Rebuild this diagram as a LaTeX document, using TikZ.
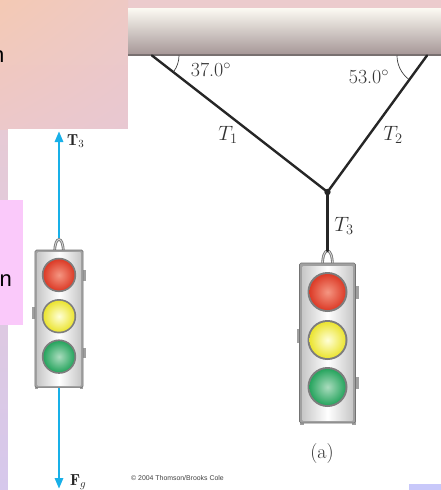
\documentclass[tikz,border=0pt]{standalone}
\usepackage{fontspec}
\newfontfamily\slidefont{Liberation Sans}
\usetikzlibrary{arrows.meta,shadings}
\definecolor{bgtop}{RGB}{236,203,205}
\definecolor{bgbot}{RGB}{214,200,236}
\definecolor{peachA}{RGB}{244,201,180}
\definecolor{peachB}{RGB}{238,201,196}
\definecolor{peachC}{RGB}{236,200,202}
\definecolor{peachD}{RGB}{232,200,210}
\definecolor{pinkbox}{RGB}{250,201,250}
\definecolor{lavbox}{RGB}{200,200,250}
\definecolor{ceiltop}{RGB}{252,250,243}
\definecolor{ceilbot}{RGB}{165,150,150}
\definecolor{ceilline}{RGB}{120,112,112}
\definecolor{forceblue}{RGB}{24,176,232}
\definecolor{housing}{RGB}{160,160,160}
\definecolor{housingdark}{RGB}{115,115,115}
\definecolor{facegray}{RGB}{200,200,200}
\definecolor{lampring}{RGB}{125,125,125}
\definecolor{redin}{RGB}{245,150,130}
\definecolor{redout}{RGB}{220,60,40}
\definecolor{yelin}{RGB}{255,255,215}
\definecolor{yelout}{RGB}{235,228,50}
\definecolor{grnin}{RGB}{170,220,190}
\definecolor{grnout}{RGB}{40,165,95}
\newcommand\tlamp[3]{%
  \fill[lampring] (0,#1) circle (20);
  \shade[inner color=#2, outer color=#3] (0,#1) circle (18);
}
\tikzset{
  rope/.style={line width=2.4pt, black!85, line cap=round},
  force/.style={line width=2.8pt, forceblue, -{Triangle[length=11pt,width=8pt]}},
  angarc/.style={line width=0.7pt, black!75},
  lbl/.style={font=\fontsize{20}{20}\selectfont, text=black!80, inner sep=0pt},
  vlbl/.style={font=\fontsize{16}{16}\selectfont, text=black!85, inner sep=0pt},
  tlight/.pic={
    \draw[housingdark, line width=2.6pt] (-5,2) .. controls (-5,-17) and (5,-17) .. (5,2);
    \draw[gray!30, line width=0.9pt] (-5,2) .. controls (-5,-17) and (5,-17) .. (5,2);
    \fill[housing] (27,23) rectangle (31,36);
    \fill[housing] (27,114) rectangle (31,126);
    \fill[housing] (-31,66) rectangle (-27,80);
    \fill[housing] (-28,157) rectangle (-24,162);
    \fill[housing] (24,157) rectangle (28,162);
    \draw[housingdark, fill=housing, rounded corners=1.5pt, line width=0.6pt] (-28,0) rectangle (28,160);
    \shade[left color=facegray, right color=facegray, middle color=white] (-25,3) rectangle (25,157);
    \tlamp{29}{redin}{redout}
    \tlamp{77}{yelin}{yelout}
    \tlamp{124}{grnin}{grnout}
  }
}
\begin{document}
\begin{tikzpicture}[x=1pt,y=-1pt]
\useasboundingbox (0,0) rectangle (441,490);
% slide background
\shade[top color=bgtop, bottom color=bgbot] (0,0) rectangle (441,490);
\shade[upper left=peachA, upper right=peachB, lower left=peachC, lower right=peachD] (0,0) rectangle (128,129);
\node[font=\slidefont\fontsize{22}{22}\selectfont, anchor=base east, inner sep=0pt] (ntop) at (4.5,62) {n};
% white figure areas
\fill[white] (8,129) rectangle (128,490);
\fill[white] (128,8) rectangle (441,490);
\fill[pinkbox] (0,200) rectangle (23,325);
\node[font=\slidefont\fontsize{22}{22}\selectfont, anchor=base west, inner sep=0pt] (nmid) at (-0.5,286) {n};
\fill[lavbox] (409,484) rectangle (441,490);
% ceiling
\shade[top color=ceiltop, bottom color=ceilbot] (128,8) rectangle (441,55);
\draw[ceilline, line width=1.6pt] (128,55) -- (441,55);
% traffic lights
\pic (tlR) at (327.5,263) {tlight};
\pic[scale=0.86] (tlL) at (59,250) {tlight};
% rope points
\coordinate (A) at (152,55.5);
\coordinate (B) at (427,55.5);
\coordinate (J) at (327.5,192);
\coordinate (H) at (327.5,251);
\draw[rope] (A) -- (J) -- (B);
\draw[rope] (J) -- (H);
\fill[black!85] (J) circle (3.2);
% angle arcs
\draw[angarc] ([xshift=27pt]A) arc[start angle=0, end angle=36, radius=27];
\draw[angarc] ([xshift=-30pt]B) arc[start angle=180, end angle=128, radius=30];
% labels
\node[lbl] (a37) at (211,70) {37.0$^\circ$};
\node[lbl] (a53) at (369,77) {53.0$^\circ$};
\node[lbl] (t1) at (228,135) {$T_1$};
\node[lbl] (t2) at (393,135) {$T_2$};
\node[lbl] (t3) at (344,226) {$T_3$};
\node[lbl] (capa) at (322,454) {(a)};
% free-body forces
\coordinate (Lhook) at (59,238);
\coordinate (Lbot) at (59,388);
\coordinate (Uptip) at (59,131);
\coordinate (Dntip) at (59,489);
\draw[force] (Lhook) -- (Uptip);
\draw[force] (Lbot) -- (Dntip);
\node[vlbl, anchor=west] (T3v) at (67,141) {$\mathbf{T}_3$};
\node[vlbl, anchor=west] (Fgv) at (70,482) {$\mathbf{F}_g$};
\node[font=\slidefont\fontsize{6.9}{6.9}\selectfont, text=black!75, anchor=west, inner sep=0pt] (copy) at (131,478) {© 2004 Thomson/Brooks Cole};
\end{tikzpicture}
\end{document}
